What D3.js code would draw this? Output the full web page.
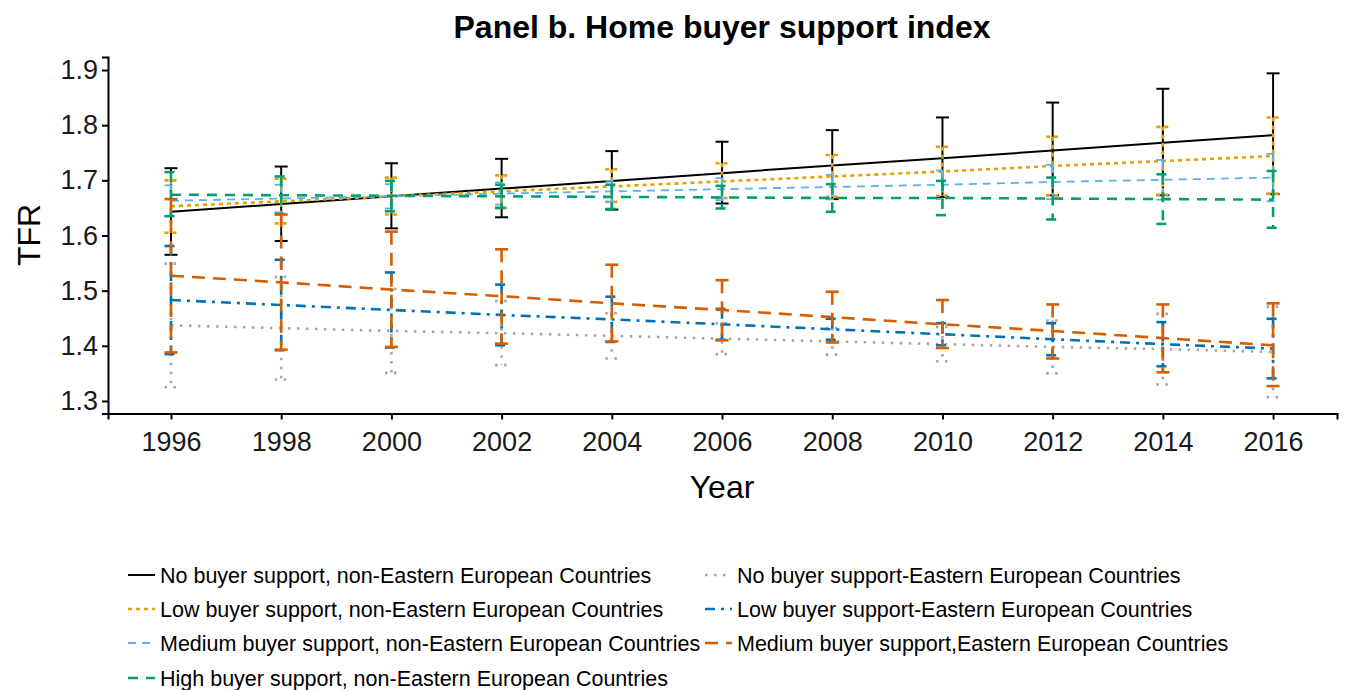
<!DOCTYPE html>
<html>
<head>
<meta charset="utf-8">
<script src="https://cdn.jsdelivr.net/npm/d3@7/dist/d3.min.js"></script>
<style>
  html, body { margin: 0; padding: 0; background: #fff; }
  svg { display: block; font-family: "Liberation Sans", Arial, Helvetica, sans-serif; }
</style>
</head>
<body>
<svg id="chart" width="1345" height="690"></svg>
<script>
// Survey years
const years = [1996, 1998, 2000, 2002, 2004, 2006, 2008, 2010, 2012, 2014, 2016];

// Series labels (legend order)
const seriesLabels = [
  "No buyer support, non-Eastern European Countries",
  "Low buyer support, non-Eastern European Countries",
  "Medium buyer support, non-Eastern European Countries",
  "High buyer support, non-Eastern European Countries",
  "No buyer support-Eastern European Countries",
  "Low buyer support-Eastern European Countries",
  "Medium buyer support,Eastern European Countries"
];

// Predicted TFR with confidence bounds
const noNonEE      = [1.643, 1.657, 1.671, 1.685, 1.699, 1.713, 1.727, 1.740, 1.754, 1.768, 1.782];
const noNonEELo    = [1.565, 1.590, 1.613, 1.633, 1.647, 1.658, 1.666, 1.670, 1.673, 1.673, 1.675];
const noNonEEHi    = [1.722, 1.725, 1.731, 1.739, 1.753, 1.770, 1.791, 1.814, 1.841, 1.866, 1.894];

const lowNonEE     = [1.653, 1.662, 1.671, 1.680, 1.689, 1.698, 1.707, 1.716, 1.726, 1.735, 1.744];
const lowNonEELo   = [1.605, 1.622, 1.638, 1.650, 1.661, 1.668, 1.670, 1.672, 1.673, 1.674, 1.676];
const lowNonEEHi   = [1.700, 1.703, 1.705, 1.709, 1.720, 1.731, 1.746, 1.761, 1.779, 1.797, 1.814];

const medNonEE     = [1.663, 1.667, 1.671, 1.676, 1.680, 1.684, 1.688, 1.692, 1.697, 1.701, 1.705];
const medNonEELo   = [1.635, 1.642, 1.649, 1.656, 1.661, 1.664, 1.666, 1.666, 1.666, 1.665, 1.662];
const medNonEEHi   = [1.691, 1.692, 1.693, 1.696, 1.699, 1.704, 1.710, 1.718, 1.728, 1.737, 1.748];

const highNonEE    = [1.674, 1.673, 1.672, 1.671, 1.670, 1.669, 1.668, 1.668, 1.667, 1.666, 1.665];
const highNonEELo  = [1.635, 1.639, 1.644, 1.650, 1.648, 1.649, 1.643, 1.637, 1.629, 1.621, 1.614];
const highNonEEHi  = [1.715, 1.707, 1.699, 1.692, 1.692, 1.690, 1.693, 1.699, 1.705, 1.711, 1.717];

const noEE         = [1.437, 1.432, 1.427, 1.423, 1.418, 1.413, 1.408, 1.403, 1.398, 1.394, 1.389];
const noEELo       = [1.325, 1.339, 1.351, 1.365, 1.377, 1.385, 1.384, 1.372, 1.350, 1.330, 1.307];
const noEEHi       = [1.549, 1.525, 1.503, 1.481, 1.459, 1.441, 1.432, 1.434, 1.446, 1.458, 1.471];

const lowEE        = [1.483, 1.474, 1.465, 1.456, 1.448, 1.439, 1.430, 1.421, 1.412, 1.403, 1.395];
const lowEELo      = [1.385, 1.392, 1.397, 1.401, 1.407, 1.411, 1.411, 1.401, 1.383, 1.363, 1.341];
const lowEEHi      = [1.581, 1.556, 1.533, 1.511, 1.489, 1.467, 1.449, 1.441, 1.441, 1.443, 1.449];

const medEE        = [1.527, 1.515, 1.502, 1.490, 1.477, 1.465, 1.452, 1.439, 1.427, 1.414, 1.401];
const medEELo      = [1.388, 1.393, 1.398, 1.404, 1.408, 1.410, 1.406, 1.396, 1.377, 1.352, 1.327];
const medEEHi      = [1.666, 1.638, 1.607, 1.575, 1.547, 1.519, 1.498, 1.483, 1.475, 1.475, 1.477];

// Axis ticks
const yTicks = [1.3, 1.4, 1.5, 1.6, 1.7, 1.8, 1.9];
const xTicks = years;

// Table of series built from the arrays above
const seriesData = [
  [noNonEE, noNonEELo, noNonEEHi],
  [lowNonEE, lowNonEELo, lowNonEEHi],
  [medNonEE, medNonEELo, medNonEEHi],
  [highNonEE, highNonEELo, highNonEEHi],
  [noEE, noEELo, noEEHi],
  [lowEE, lowEELo, lowEEHi],
  [medEE, medEELo, medEEHi]
].map((s, i) => ({
  label: seriesLabels[i],
  points: years.map((yr, j) => ({ year: yr, mean: s[0][j], lo: s[1][j], hi: s[2][j] }))
}));

// Line styles per series
const styles = [
  { color: "#000000", dash: null,         width: 2.0 },
  { color: "#E69F00", dash: "4,4",        width: 2.6 },
  { color: "#56B4E9", dash: "8,6",        width: 1.8 },
  { color: "#009E73", dash: "10,8",       width: 2.6 },
  { color: "#A6A6A6", dash: "2.5,6.5",    width: 2.6 },
  { color: "#0072B2", dash: "10,6,3,6",   width: 2.6 },
  { color: "#D55E00", dash: "13,8",       width: 2.6 }
];

const svg = d3.select("#chart");

const x = d3.scaleLinear().domain([1994.857, 2017.16]).range([108, 1337]);
const y = d3.scaleLinear().domain([1.2773, 1.9236]).range([413.5, 57]);

// Title
svg.append("text")
  .attr("x", 722).attr("y", 38)
  .attr("text-anchor", "middle")
  .attr("font-size", 32).attr("font-weight", "bold")
  .attr("fill", "#000")
  .text("Panel b. Home buyer support index");

// Axes
const gx = svg.append("g")
  .attr("transform", "translate(0,413.5)")
  .call(d3.axisBottom(x).tickValues(xTicks).tickFormat(d3.format("d")).tickSizeOuter(0).tickSize(6).tickPadding(6));
const gy = svg.append("g")
  .attr("transform", "translate(108,0)")
  .call(d3.axisLeft(y).tickValues(yTicks).tickFormat(d3.format(".1f")).tickSizeOuter(0).tickSize(6).tickPadding(4));

[gx, gy].forEach(g => {
  g.select(".domain").attr("stroke", "#000").attr("stroke-width", 2);
  g.selectAll(".tick line").attr("stroke", "#000").attr("stroke-width", 2);
  g.selectAll(".tick text").attr("fill", "#1a1a1a").attr("font-size", 27)
    .attr("font-family", "'Liberation Sans', Arial, sans-serif");
});
gx.selectAll(".tick text").attr("dy", "0.95em");

// Axis titles
svg.append("text")
  .attr("x", 722).attr("y", 498)
  .attr("text-anchor", "middle")
  .attr("font-size", 32).attr("fill", "#000")
  .text("Year");
svg.append("text")
  .attr("transform", "translate(40,235) rotate(-90)")
  .attr("text-anchor", "middle")
  .attr("font-size", 32).attr("fill", "#000")
  .text("TFR");

// Series: fitted line plus confidence bars
const line = d3.line().x(d => x(d.year)).y(d => y(d.mean));
const capHalf = 6.5;

seriesData.forEach((s, i) => {
  const st = styles[i];
  const g = svg.append("g").attr("class", "series");
  const applyStyle = sel => sel
    .attr("fill", "none")
    .attr("stroke", st.color)
    .attr("stroke-width", st.width)
    .attr("stroke-dasharray", st.dash);

  g.append("path").datum(s.points).attr("d", line).call(applyStyle);

  const bars = g.selectAll("g.bar").data(s.points).join("g").attr("class", "bar");
  bars.append("line")
    .attr("x1", d => x(d.year)).attr("x2", d => x(d.year))
    .attr("y1", d => y(d.hi)).attr("y2", d => y(d.lo))
    .call(applyStyle);
  bars.append("line")
    .attr("x1", d => x(d.year) - capHalf).attr("x2", d => x(d.year) + capHalf)
    .attr("y1", d => y(d.hi)).attr("y2", d => y(d.hi))
    .call(applyStyle);
  bars.append("line")
    .attr("x1", d => x(d.year) - capHalf).attr("x2", d => x(d.year) + capHalf)
    .attr("y1", d => y(d.lo)).attr("y2", d => y(d.lo))
    .call(applyStyle);
});

// Legend: two columns, filled column by column
const legendCols = [128, 705];
const legendRows = [575, 609, 643, 678];
const keyLen = 27;

seriesData.forEach((s, i) => {
  const st = styles[i];
  const col = i < 4 ? 0 : 1;
  const row = i < 4 ? i : i - 4;
  const lx = legendCols[col], ly = legendRows[row];
  const g = svg.append("g").attr("class", "legend-item");
  g.append("line")
    .attr("x1", lx).attr("x2", lx + keyLen)
    .attr("y1", ly).attr("y2", ly)
    .attr("stroke", st.color)
    .attr("stroke-width", st.width)
    .attr("stroke-dasharray", st.dash);
  g.append("text")
    .attr("x", lx + keyLen + 5).attr("y", ly)
    .attr("dy", "0.35em")
    .attr("font-size", 21.5).attr("fill", "#000")
    .text(s.label);
});
</script>
</body>
</html>
